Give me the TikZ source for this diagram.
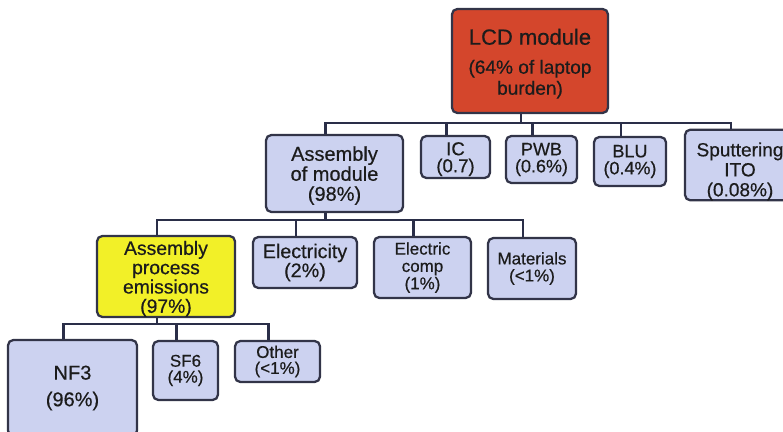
\documentclass[tikz,border=0pt]{standalone}
\usepackage{fontspec}
\setmainfont{Liberation Sans}[FakeBold=0.5]
\usetikzlibrary{calc}
\definecolor{redfill}{RGB}{212,70,44}
\definecolor{lblue}{RGB}{204,210,240}
\definecolor{yfill}{RGB}{242,240,40}
\definecolor{boxline}{RGB}{50,52,72}
\definecolor{connc}{RGB}{42,46,72}
\definecolor{txt}{RGB}{28,28,28}
\begin{document}
\begin{tikzpicture}[x=0.75pt,y=-0.75pt,
  box/.style={draw=boxline, line width=1.7pt, rounded corners=4pt, inner sep=0pt, align=center, text=txt},
  bluebox/.style={box, fill=lblue},
  conn/.style={draw=connc, line width=2.1pt, line join=miter}]
\useasboundingbox (0,0) rectangle (783,432);
% level 0
\node[box, fill=redfill, minimum width=117pt, minimum height=78pt,
  font=\fontsize{14.3pt}{15.75pt}\selectfont] (lcd) at (530,61)
  {\rule{0pt}{16pt}{\fontsize{16.5pt}{16.5pt}\selectfont LCD module}\\[6pt](64\% of laptop\\burden)};
% level 1
\node[bluebox, minimum width=102.75pt, minimum height=57.75pt,
  font=\fontsize{15pt}{15pt}\selectfont] (asm) at (334.5,173.5) {\rule{0pt}{14pt}Assembly\\of module\\(98\%)};
\node[bluebox, minimum width=51.75pt, minimum height=31.5pt,
  font=\fontsize{14pt}{12.75pt}\selectfont] (ic) at (455.5,157) {\rule{0pt}{13pt}IC\\(0.7)};
\node[bluebox, minimum width=53.25pt, minimum height=35.25pt,
  font=\fontsize{13.5pt}{12.75pt}\selectfont] (pwb) at (541.5,159.5) {PWB\\(0.6\%)};
\node[bluebox, minimum width=54pt, minimum height=36.75pt,
  font=\fontsize{13.5pt}{12.75pt}\selectfont] (blu) at (630,161.5) {BLU\\(0.4\%)};
\node[bluebox, minimum width=82.5pt, minimum height=42pt,
  font=\fontsize{14.3pt}{15pt}\selectfont] (spt) at (740,165) {\rule{0pt}{20pt}Sputtering\\ITO\\(0.08\%)};
% level 2
\node[box, fill=yfill, minimum width=103.5pt, minimum height=60.75pt,
  font=\fontsize{14.5pt}{14.5pt}\selectfont] (ape) at (166,276.5) {\rule{0pt}{14pt}Assembly\\process\\emissions\\(97\%)};
\node[bluebox, minimum width=78pt, minimum height=38.25pt,
  font=\fontsize{14.8pt}{14.3pt}\selectfont] (ele) at (305,262.5) {Electricity\\(2\%)};
\node[bluebox, minimum width=72.75pt, minimum height=45.75pt,
  font=\fontsize{12.75pt}{13pt}\selectfont] (ecomp) at (422.5,267.5) {Electric\\comp\\(1\%)};
\node[bluebox, minimum width=66pt, minimum height=45.75pt,
  font=\fontsize{12.75pt}{12.75pt}\selectfont] (mat) at (532,268.5) {Materials\\(<1\%)};
% level 3
\node[bluebox, minimum width=96.75pt, minimum height=72pt,
  font=\fontsize{15pt}{20pt}\selectfont] (nf3) at (72.5,388) {NF3\\(96\%)};
\node[bluebox, minimum width=48.75pt, minimum height=44.25pt,
  font=\fontsize{12.75pt}{12pt}\selectfont] (sf6) at (185.5,370.5) {SF6\\(4\%)};
\node[bluebox, minimum width=63.75pt, minimum height=30.75pt,
  font=\fontsize{12.75pt}{12pt}\selectfont] (oth) at (277.5,361.5) {Other\\(<1\%)};
% buses
\coordinate (b1) at (0,123);
\coordinate (b2) at (0,220);
\coordinate (b3) at (0,324);
% level 0 -> 1
\draw[conn] ($(lcd.south)+(-9,0)$) -- ($(lcd.south |- b1)+(-9,0)$);
\draw[conn] ($(asm.north)+(-9,0)$) -- ($(asm.north |- b1)+(-9,0)$) -- ($(spt.north |- b1)+(-9,0)$) -- ($(spt.north)+(-9,0)$);
\foreach \n in {ic,pwb,blu}
  \draw[conn] ($(\n.north |- b1)+(-9,0)$) -- ($(\n.north)+(-9,0)$);
% level 1 -> 2
\draw[conn] ($(asm.south)+(-9,0)$) -- ($(asm.south |- b2)+(-9,0)$);
\draw[conn] ($(ape.north)+(-9,0)$) -- ($(ape.north |- b2)+(-9,0)$) -- ($(mat.north |- b2)+(-9,0)$) -- ($(mat.north)+(-9,0)$);
\foreach \n in {ele,ecomp}
  \draw[conn] ($(\n.north |- b2)+(-9,0)$) -- ($(\n.north)+(-9,0)$);
% level 2 -> 3
\draw[conn] ($(ape.south)+(-9,0)$) -- ($(ape.south |- b3)+(-9,0)$);
\draw[conn] ($(nf3.north)+(-9,0)$) -- ($(nf3.north |- b3)+(-9,0)$) -- ($(oth.north |- b3)+(-9,0)$) -- ($(oth.north)+(-9,0)$);
\draw[conn] ($(sf6.north |- b3)+(-9,0)$) -- ($(sf6.north)+(-9,0)$);
\end{tikzpicture}
\end{document}
